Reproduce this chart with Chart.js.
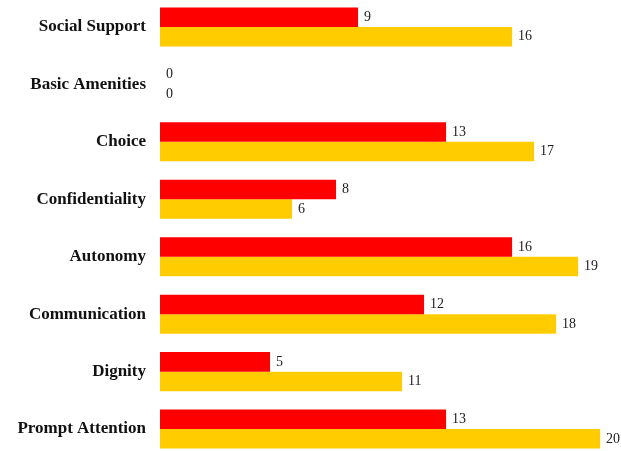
<!DOCTYPE html>
<html>
<head>
<meta charset="utf-8">
<script src="https://cdn.jsdelivr.net/npm/chart.js@4/dist/chart.umd.min.js"></script>
<style>
  html, body { margin: 0; padding: 0; background: #fff; overflow: hidden; }
  #wrap { position: absolute; left: 0; top: -26px; width: 621px; height: 508px; }
</style>
</head>
<body>
<div id="wrap"><canvas id="myChart"></canvas></div>
<script>
// categories, top to bottom
const categories = ['Social Support', 'Basic Amenities', 'Choice', 'Confidentiality',
  'Autonomy', 'Communication', 'Dignity', 'Prompt Attention'];
const redValues = [9, 0, 13, 8, 16, 12, 5, 13];
const yellowValues = [16, 0, 17, 6, 19, 18, 11, 20];

// writes each bar's value just past its end
const valueLabels = {
  id: 'valueLabels',
  afterDatasetsDraw(chart) {
    const ctx = chart.ctx;
    ctx.save();
    ctx.font = '14px "Liberation Serif", serif';
    ctx.fillStyle = '#222';
    ctx.textBaseline = 'middle';
    ctx.textAlign = 'left';
    chart.data.datasets.forEach(function(ds, i) {
      chart.getDatasetMeta(i).data.forEach(function(bar, j) {
        ctx.fillText(ds.data[j], bar.x + 6, bar.y);
      });
    });
    ctx.restore();
  }
};

var ctx = document.getElementById('myChart').getContext('2d');
new Chart(ctx, {
  type: 'bar',
  data: {
    labels: categories,
    datasets: [{
      data: redValues,
      backgroundColor: '#FF0000',
      barPercentage: 1,
      categoryPercentage: 0.68
    }, {
      data: yellowValues,
      backgroundColor: '#FFCC00',
      barPercentage: 1,
      categoryPercentage: 0.68
    }]
  },
  options: {
    indexAxis: 'y',
    responsive: true,
    maintainAspectRatio: false,
    animation: false,
    layout: { padding: 0 },
    plugins: { legend: { display: false }, tooltip: { enabled: false } },
    scales: {
      x: {
        display: false,
        min: 0,
        max: 20.95
      },
      y: {
        grid: { display: false, drawTicks: false },
        border: { display: false },
        afterFit: function(scale) { scale.width = 160; },
        ticks: {
          padding: 14,
          color: '#111',
          font: { family: '"Liberation Serif", serif', size: 17, weight: 'bold' }
        }
      }
    }
  },
  plugins: [valueLabels]
});
</script>
</body>
</html>
